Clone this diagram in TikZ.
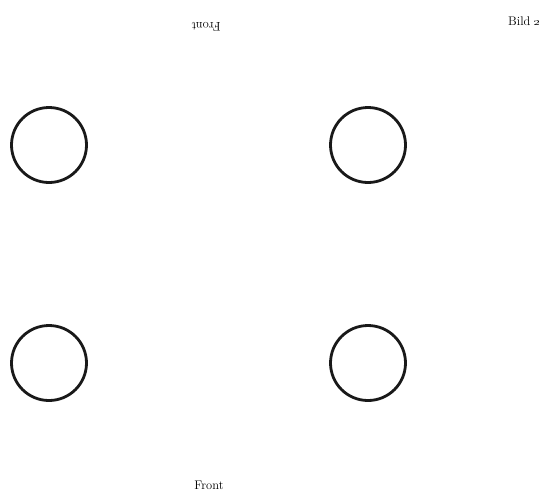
\documentclass[tikz,border=0pt]{standalone}
\begin{document}
\begin{tikzpicture}[x=1pt,y=-1pt,
  wheel/.style={circle,draw=black!90,line width=2.8pt,minimum size=75pt,inner sep=0pt},
  lbl/.style={font=\fontsize{12.5}{15}\selectfont,inner sep=0pt}]
\useasboundingbox (0,0) rectangle (545,491);
\node[wheel] (c1) at (49,145) {};
\node[wheel] (c2) at (368,145) {};
\node[wheel] (c3) at (49,363) {};
\node[wheel] (c4) at (368,363) {};
\node[lbl,rotate=180,anchor=base] (ftop) at (206,22) {Front};
\node[lbl,anchor=base] (fbot) at (209,489) {Front};
\node[lbl,anchor=base west] (bild) at (508,25) {Bild \oldstylenums{2}};
\end{tikzpicture}
\end{document}
